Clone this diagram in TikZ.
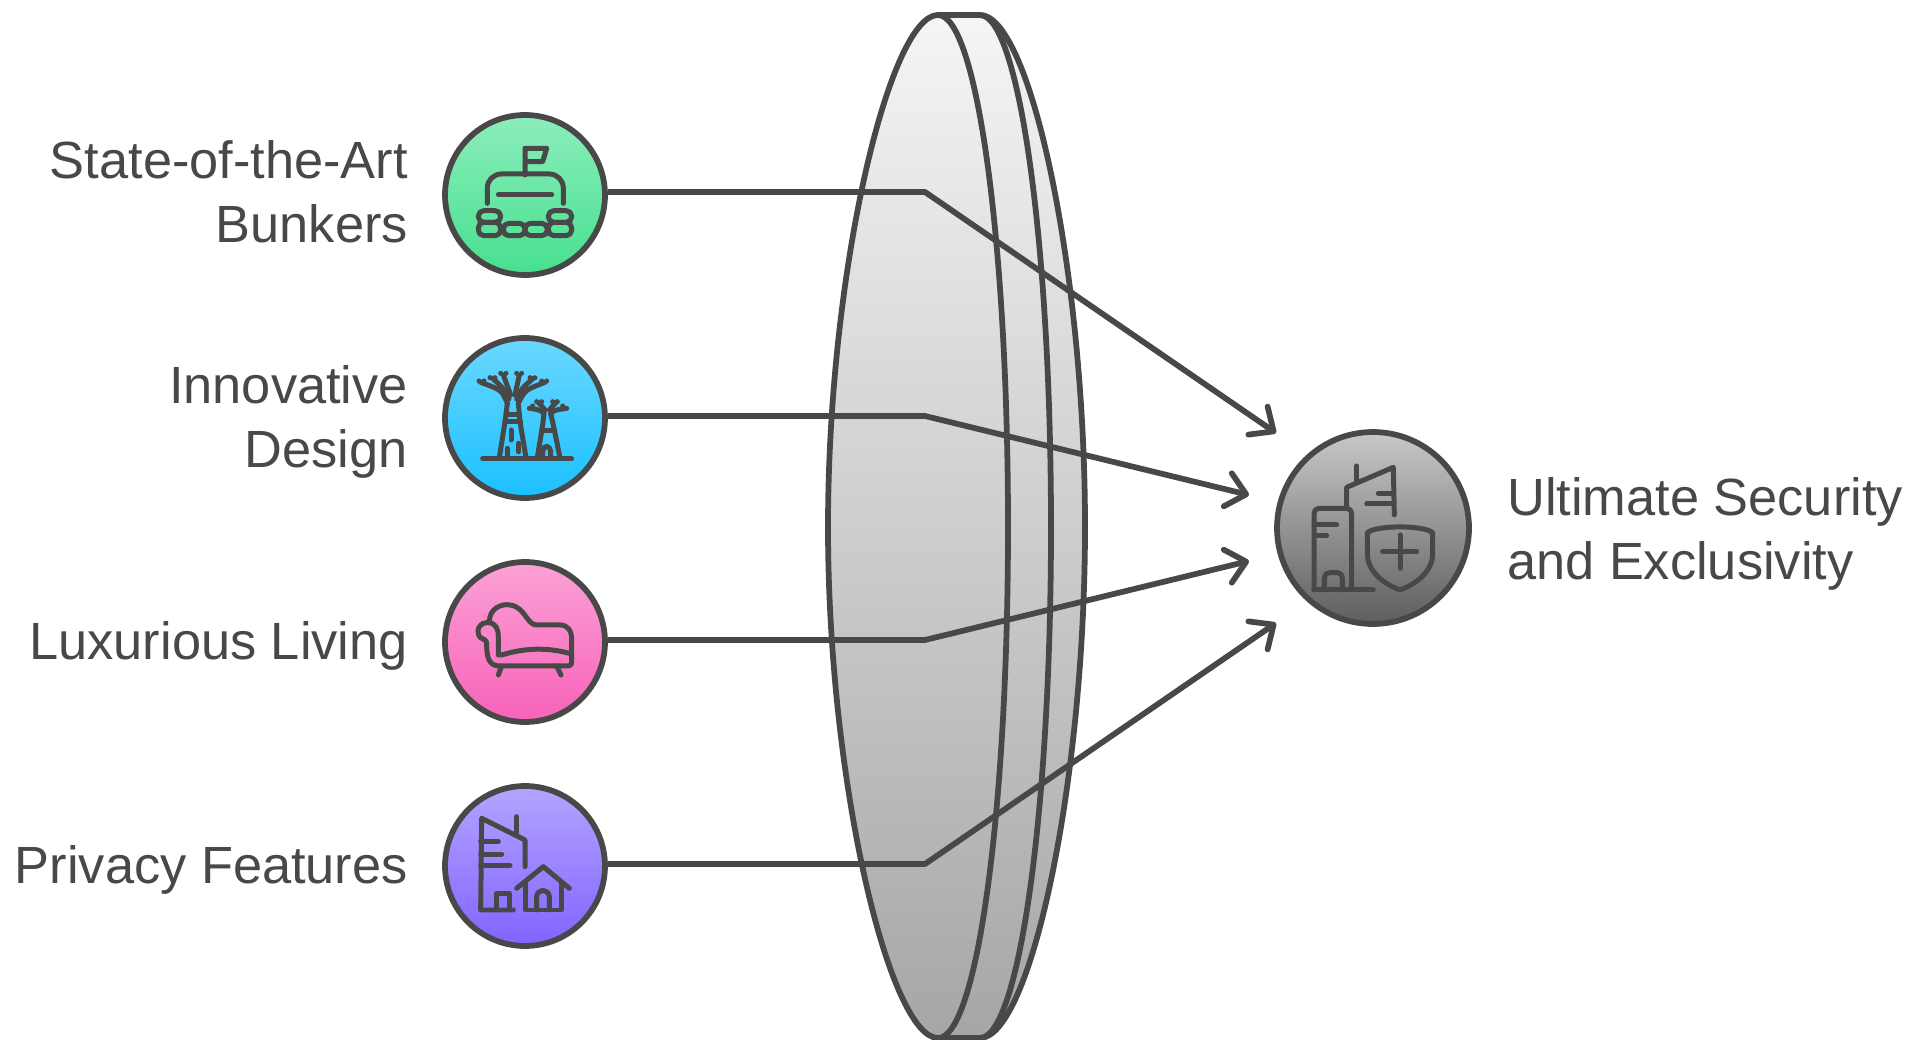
\documentclass[tikz,border=0pt]{standalone}
\usepackage{fontspec}
\setmainfont{Liberation Sans}
\usetikzlibrary{arrows.meta}
\definecolor{inkgray}{HTML}{484848}
\definecolor{greentop}{HTML}{8CEDBB}
\definecolor{greenbot}{HTML}{46E08F}
\definecolor{bluetop}{HTML}{6BD8FF}
\definecolor{bluebot}{HTML}{1AC0FF}
\definecolor{pinktop}{HTML}{FBA2D6}
\definecolor{pinkbot}{HTML}{F862B9}
\definecolor{violettop}{HTML}{B4A4FF}
\definecolor{violetbot}{HTML}{8263FF}
\definecolor{graytop}{HTML}{C8C8C8}
\definecolor{graybot}{HTML}{5E5E5E}
\definecolor{lenstop}{HTML}{F5F5F5}
\definecolor{lensbot}{HTML}{A6A6A6}
\tikzset{
  outline/.style={draw=inkgray,line width=0.115cm,line join=round},
  iconcircle/.style={circle,outline,minimum size=3.2cm,inner sep=0pt},
  iconline/.style={draw=inkgray,line width=0.1cm,line cap=round,line join=round},
  zoomed/.style={x=0.00667cm,y=-0.00667cm},
  labeltext/.style={text=inkgray,font=\fontsize{29.8}{36.5}\selectfont},
  pointer/.style={outline,-{Straight Barb[length=0.38cm,width=0.68cm,line cap=round,round]}}
}
\begin{document}
\begin{tikzpicture}[x=0.02cm,y=-0.02cm]
\useasboundingbox (0,0) rectangle (1923,1040);
% lens
\path[outline,top color=lenstop,bottom color=lensbot]
  (938,15) -- (980,15) .. controls (1030,15) and (1085,270) .. (1085,527)
  .. controls (1085,784) and (1030,1038) .. (980,1038) -- (938,1038) -- cycle;
\path[outline,top color=lenstop,bottom color=lensbot]
  (938,15) .. controls (890,15) and (828,270) .. (828,527)
  .. controls (828,784) and (890,1038) .. (938,1038)
  .. controls (977,1038) and (1008,810) .. (1008,527)
  .. controls (1008,244) and (977,15) .. (938,15) -- cycle;
\draw[outline] (980,15) .. controls (1019,15) and (1051,244) .. (1051,527)
  .. controls (1051,810) and (1019,1038) .. (980,1038);
% circles
\node[iconcircle,top color=greentop,bottom color=greenbot] (bunkers) at (525,195) {};
\node[iconcircle,top color=bluetop,bottom color=bluebot] (design) at (525,418) {};
\node[iconcircle,top color=pinktop,bottom color=pinkbot] (living) at (525,642) {};
\node[iconcircle,top color=violettop,bottom color=violetbot] (privacy) at (525,866) {};
\node[iconcircle,minimum size=3.84cm,top color=graytop,bottom color=graybot] (security) at (1373,528) {};
% connectors
\coordinate (bendA) at (925,192);
\coordinate (bendB) at (925,416);
\coordinate (bendC) at (925,640);
\coordinate (bendD) at (925,864);
\coordinate (tipA) at (1276,433);
\coordinate (tipB) at (1249,495);
\coordinate (tipC) at (1249,561);
\coordinate (tipD) at (1276,623);
\draw[pointer] (bunkers.east |- bendA) -- (bendA) -- (tipA);
\draw[pointer] (design.east |- bendB) -- (bendB) -- (tipB);
\draw[pointer] (living.east |- bendC) -- (bendC) -- (tipC);
\draw[pointer] (privacy.east |- bendD) -- (bendD) -- (tipD);
% labels
\node[labeltext,align=right,anchor=east] (labelA) at (414,192) {State-of-the-Art\\Bunkers};
\node[labeltext,align=right,anchor=east] (labelB) at (414,422) {Innovative\\Design};
\node[labeltext,anchor=east] (labelC) at (414,646) {Luxurious Living};
\node[labeltext,anchor=east] (labelD) at (414,870) {Privacy Features};
\node[labeltext,align=left,anchor=west] (labelE) at (1501,534) {Ultimate Security\\and Exclusivity};
% bunker icon
\begin{scope}[shift={(430,100)},zoomed]
\draw[iconline] (285,225) -- (285,145) -- (350,145) -- (338,185) -- (285,185);
\draw[iconline,rounded corners=0.28cm] (172,310) -- (172,222) -- (400,222) -- (400,310);
\draw[iconline] (205,284) -- (365,284);
\foreach \xa/\ya/\xb/\yb in {145/332/212/367,145/367/212/407,355/332/425/367,355/367/425/407,220/370/285/407,285/370/352/407}
  \draw[iconline,rounded corners=0.11cm] (\xa,\ya) rectangle (\xb,\yb);
\end{scope}
% tree icon
\begin{scope}[shift={(430,325)},zoomed]
\draw[iconline] (158,402) -- (425,402);
\draw[iconline] (208,398) -- (225,290) -- (232,235);
\draw[iconline] (288,398) -- (270,290) -- (265,235);
\draw[iconline] (230,268) -- (268,268);
\draw[iconline] (226,290) -- (272,290);
\draw[iconline] (243,315) -- (243,345);
\draw[iconline] (266,355) -- (266,380);
\draw[iconline] (232,370) -- (232,398);
\draw[iconline] (232,235) .. controls (215,195) .. (152,172);
\draw[iconline] (265,235) .. controls (285,195) .. (345,172);
\draw[iconline] (237,222) .. controls (220,190) .. (188,160);
\draw[iconline] (260,222) .. controls (275,190) .. (310,160);
\draw[iconline] (242,210) -- (220,150);
\draw[iconline] (255,210) -- (268,150);
\draw[iconline] (322,398) -- (338,300) -- (342,265);
\draw[iconline] (390,398) -- (370,300) -- (362,265);
\draw[iconline] (338,318) -- (368,318);
\draw[iconline] (342,265) .. controls (330,255) .. (300,250);
\draw[iconline] (362,265) .. controls (375,255) .. (410,250);
\draw[iconline] (345,255) -- (325,232);
\draw[iconline] (358,255) -- (378,232);
\draw[iconline] (338,398) -- (338,378) .. controls (340,360) and (360,360) .. (362,378) -- (362,398);
\foreach \xa/\ya in {147/168,162/168,180/158,195/158,212/145,228/145,260/145,275/145,300/158,315/158,335/168,350/168,298/250,308/243,408/250,398/243,320/230,335/230,368/230,382/230}
  \fill[inkgray] (\xa,\ya) circle (0.05cm);
\end{scope}
% sofa icon
\begin{scope}[shift={(430,550)},zoomed]
\draw[iconline] (178,215) .. controls (178,175) and (215,160) .. (240,165)
  .. controls (285,170) and (290,225) .. (320,225) -- (390,225)
  .. controls (415,225) and (425,245) .. (425,265) -- (425,335)
  .. controls (425,345) and (420,348) .. (410,348) -- (205,348)
  .. controls (175,345) and (170,320) .. (170,280)
  .. controls (170,270) and (160,268) .. (150,262)
  .. controls (135,240) and (150,215) .. (178,218)
  .. controls (200,222) and (205,240) .. (205,260) -- (205,315) -- (215,315)
  .. controls (280,295) and (350,290) .. (425,312);
\draw[iconline] (215,348) -- (205,375);
\draw[iconline] (380,348) -- (393,375);
\end{scope}
% tower and house icon
\begin{scope}[shift={(430,775)},zoomed]
\draw[iconline] (285,275) -- (285,195) -- (155,130) -- (152,405) -- (250,405);
\draw[iconline] (260,125) -- (260,180);
\draw[iconline] (152,200) -- (205,200);
\draw[iconline] (152,237) -- (215,237);
\draw[iconline] (152,272) -- (240,272);
\draw[iconline] (200,405) -- (200,355) -- (238,355) -- (238,405);
\draw[iconline] (260,340) -- (340,275) -- (418,340);
\draw[iconline] (285,325) -- (285,405) -- (395,405) -- (395,325);
\draw[iconline] (320,405) -- (320,365) .. controls (322,340) and (356,340) .. (358,365) -- (358,405);
\end{scope}
% shield icon
\begin{scope}[shift={(1210,380)},zoomed]
\draw[iconline] (312,630) -- (490,630);
\draw[iconline,rounded corners=0.1cm] (312,630) -- (312,385) -- (425,385) -- (425,630);
\draw[iconline] (312,435) -- (380,435);
\draw[iconline] (312,467) -- (350,467);
\draw[iconline,rounded corners=0.1cm] (343,630) -- (343,578) -- (397,578) -- (397,630);
\draw[iconline] (410,385) -- (410,322) -- (550,262) -- (553,405);
\draw[iconline] (440,258) -- (440,300);
\draw[iconline] (505,340) -- (550,340);
\draw[iconline] (470,372) -- (550,372);
\draw[iconline] (472,458) .. controls (500,435) and (640,435) .. (668,458) -- (668,520)
  .. controls (668,580) and (610,615) .. (570,630)
  .. controls (530,615) and (472,580) .. (472,520) -- cycle;
\draw[iconline] (570,465) -- (570,565);
\draw[iconline] (518,516) -- (620,516);
\end{scope}
\end{tikzpicture}
\end{document}
